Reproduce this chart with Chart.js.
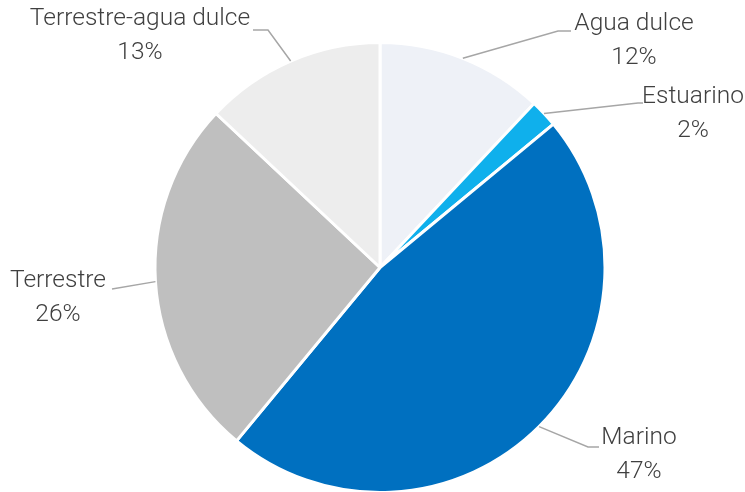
<!DOCTYPE html>
<html>
<head>
<meta charset="utf-8">
<script src="https://cdn.jsdelivr.net/npm/chart.js@4"></script>
<style>
  html, body { margin: 0; padding: 0; background: #fff; overflow: hidden; }
  #wrap { width: 745px; height: 494px; position: relative; }
</style>
</head>
<body>
<div id="wrap"><canvas id="myChart"></canvas></div>
<script>
var labels = ["Agua dulce", "Estuarino", "Marino", "Terrestre", "Terrestre-agua dulce"];
var values = [12, 2, 47, 26, 13];
var colors = ["#EEF1F7", "#0FB0EC", "#0070C0", "#BFBFBF", "#EDEDED"];

// where each callout label sits: text centre x, first line centre y, and the leader elbow
var callouts = [
  { x: 634, y: 24, ex: 558, ey: 31, hx: 571 },
  { x: 693, y: 97, ex: 638, ey: 103, hx: 643 },
  { x: 639, y: 438, ex: 588, ey: 447, hx: 599 },
  { x: 58, y: 281, ex: 112, ey: 289, hx: 112 },
  { x: 140, y: 19, ex: 268, ey: 30, hx: 253 },
];

var calloutPlugin = {
  id: "callouts",
  afterDatasetsDraw: function (chart) {
    var c = chart.ctx;
    var arcs = chart.getDatasetMeta(0).data;
    c.save();
    arcs.forEach(function (arc, i) {
      var p = callouts[i];
      var mid = (arc.startAngle + arc.endAngle) / 2;
      var sx = arc.x + Math.cos(mid) * arc.outerRadius;
      var sy = arc.y + Math.sin(mid) * arc.outerRadius;
      c.strokeStyle = "#A6A6A6";
      c.lineWidth = 1.5;
      c.beginPath();
      c.moveTo(sx, sy);
      c.lineTo(p.ex, p.ey);
      c.lineTo(p.hx, p.ey);
      c.stroke();

      c.fillStyle = "#404040";
      c.font = "300 24.5px Roboto";
      c.textAlign = "center";
      c.textBaseline = "middle";
      c.fillText(labels[i], p.x, p.y);
      c.fillText(values[i] + "%", p.x, p.y + 34);
    });
    c.restore();
  },
};

var ctx = document.getElementById("myChart").getContext("2d");
var myChart = new Chart(ctx, {
  type: "pie",
  data: {
    labels: labels,
    datasets: [
      {
        data: values,
        backgroundColor: colors,
        borderColor: "#ffffff",
        borderWidth: 3,
      },
    ],
  },
  options: {
    responsive: true,
    maintainAspectRatio: false,
    animation: false,
    layout: { padding: { top: 41, bottom: 0, left: 153, right: 138 } },
    plugins: {
      legend: { display: false },
      tooltip: { enabled: false },
    },
  },
  plugins: [calloutPlugin],
});
</script>
</body>
</html>
